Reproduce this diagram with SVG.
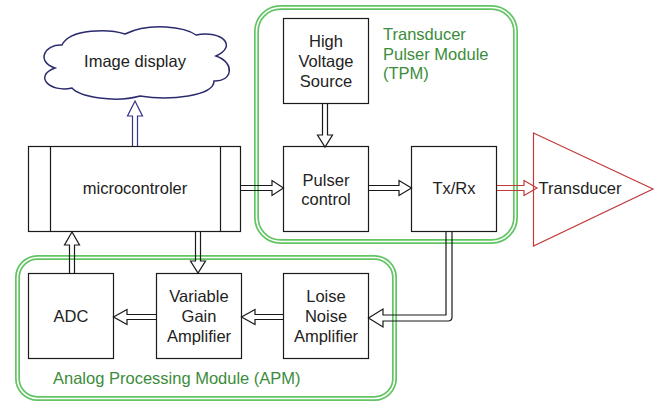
<svg xmlns="http://www.w3.org/2000/svg" width="658" height="404" viewBox="0 0 658 404">
<style>
.box{fill:#fff;stroke:#1a1a1a;stroke-width:1.2}
.t{font-family:"Liberation Sans",Arial,sans-serif;font-size:16.5px;fill:#222;text-anchor:middle}
.g{font-family:"Liberation Sans",Arial,sans-serif;font-size:16.5px;fill:#3c8c3c}
.mod{fill:none;stroke:#62c462;stroke-width:5}
.modin{fill:none;stroke:#fff;stroke-width:1.6}
.ar{fill:none;stroke:#1a1a1a;stroke-width:1.2;stroke-linejoin:miter}
</style>
<rect width="658" height="404" fill="#fff"/>
<g id="tpm">
<rect class="mod" x="256.5" y="7.5" width="259" height="234" rx="24"/>
<rect class="modin" x="256.5" y="7.5" width="259" height="234" rx="24"/>
<text class="g" x="383" y="40">Transducer</text>
<text class="g" x="383" y="60">Pulser Module</text>
<text class="g" x="383" y="79">(TPM)</text>
</g>
<g id="apm">
<rect class="mod" x="17.5" y="257.5" width="377" height="141" rx="20"/>
<rect class="modin" x="17.5" y="257.5" width="377" height="141" rx="20"/>
<text class="g" x="53" y="384">Analog Processing Module (APM)</text>
</g>
<g id="cloud">
<path d="M62,45 C70,28 110,29 125,34 C150,22 185,27 196,35 C222,30 238,46 216,56 C236,63 232,82 214,81 C214,96 170,101 140,96 C115,103 80,97 72,88 C50,93 33,76 55,68 C36,62 44,44 62,45 Z" fill="#fff" stroke="#2b2b6e" stroke-width="1.5"/>
<text class="t" x="135" y="67">Image display</text>
</g>
<g id="micro">
<rect class="box" x="28.5" y="146.5" width="212" height="85"/>
<line x1="50.5" y1="146.5" x2="50.5" y2="231.5" stroke="#1a1a1a" stroke-width="1.2"/>
<line x1="220.5" y1="146.5" x2="220.5" y2="231.5" stroke="#1a1a1a" stroke-width="1.2"/>
<text class="t" x="135" y="194">microcontroler</text>
</g>
<g id="hvs">
<rect class="box" x="283.5" y="18.5" width="85" height="85"/>
<text class="t" x="326" y="47">High</text>
<text class="t" x="326" y="67">Voltage</text>
<text class="t" x="326" y="87">Source</text>
</g>
<g id="pulser">
<rect class="box" x="283.5" y="146.5" width="85" height="85"/>
<text class="t" x="326" y="186">Pulser</text>
<text class="t" x="326" y="205">control</text>
</g>
<g id="txrx">
<rect class="box" x="411.5" y="146.5" width="85" height="85"/>
<text class="t" x="454" y="194">Tx/Rx</text>
</g>
<g id="transducer">
<polygon points="533.5,133 653,189 533.5,246" fill="none" stroke="#c23a3a" stroke-width="1.2"/>
<text class="t" x="580" y="194">Transducer</text>
</g>
<g id="adc">
<rect class="box" x="28.5" y="273.5" width="85" height="85"/>
<text class="t" x="71" y="322">ADC</text>
</g>
<g id="vga">
<rect class="box" x="156.5" y="273.5" width="85" height="85"/>
<text class="t" x="199" y="302">Variable</text>
<text class="t" x="199" y="322">Gain</text>
<text class="t" x="199" y="342">Amplifier</text>
</g>
<g id="lna">
<rect class="box" x="283.5" y="273.5" width="85" height="85"/>
<text class="t" x="326" y="302">Loise</text>
<text class="t" x="326" y="322">Noise</text>
<text class="t" x="326" y="342">Amplifier</text>
</g>
<g id="connectors">
<path class="ar" style="stroke:#33338a" d="M132.5,146 V116 H127.5 L135,101 L142.5,116 H137.5 V146"/>
<path class="ar" d="M241,185.5 H272 V180.5 L283.5,188 L272,195.5 V190.5 H241"/>
<path class="ar" d="M322.5,104 V135 H317.5 L325,147 L332.5,135 H327.5 V104"/>
<path class="ar" d="M369,185.5 H399 V180.5 L411.5,188 L399,195.5 V190.5 H369"/>
<path class="ar" style="stroke:#c23a3a" d="M497,185.5 H524 V180.5 L537,188 L524,195.5 V190.5 H497"/>
<path class="ar" d="M446,232 V315 H383 V309 L368.5,318 L383,327 V321 H448 Q452,321 452,317 V232"/>
<path class="ar" d="M283.5,314.5 H255 V309.5 L241.5,317 L255,324.5 V319.5 H283.5"/>
<path class="ar" d="M156.5,314.5 H127 V309.5 L113.5,317 L127,324.5 V319.5 H156.5"/>
<path class="ar" d="M69.5,273 V245 H64.5 L72,232 L79.5,245 H74.5 V273"/>
<path class="ar" d="M195.5,232 V261 H190.5 L198,273 L205.5,261 H200.5 V232"/>
</g>
</svg>
